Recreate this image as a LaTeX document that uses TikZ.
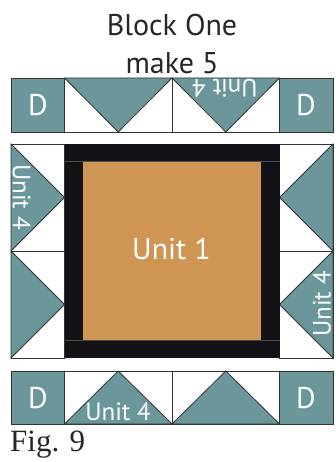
\documentclass[tikz,border=0pt]{standalone}
\usepackage{fontspec}
\setmainfont{PT Sans}
\newfontfamily\figfont{Liberation Serif}
\definecolor{teal1}{HTML}{6B979B}
\definecolor{tan1}{HTML}{CE9553}
\definecolor{blk}{HTML}{131317}
\definecolor{ln}{HTML}{333333}
\tikzset{
 tealfill/.style={fill=teal1,draw=ln,line width=0.8pt,line join=miter},
 whitefill/.style={fill=white,draw=ln,line width=0.8pt},
 lbl/.style={text=white,font=\fontsize{25}{27}\selectfont,inner sep=0pt},
 dlbl/.style={text=white,font=\fontsize{30}{32}\selectfont,inner sep=0pt},
 title/.style={text=black!85,font=\fontsize{30}{32}\selectfont,inner sep=0pt,anchor=base},
}
\begin{document}
\begin{tikzpicture}[x=1pt,y=-1pt]
\useasboundingbox (0,0) rectangle (335,462);
% top row
\draw[tealfill] (11,78) rectangle (64.5,132);
\draw[whitefill] (64.5,78) rectangle (172,132);
\draw[whitefill] (172,78) rectangle (279.5,132);
\draw[tealfill] (279.5,78) rectangle (333,132);
\draw[tealfill] (64.5,78) -- (118.2,132) -- (172,78) -- cycle;
\draw[tealfill] (172,78) -- (225.8,132) -- (279.5,78) -- cycle;
% left column
\draw[whitefill] (11,144) rectangle (64.5,251);
\draw[whitefill] (11,251) rectangle (64.5,358);
\draw[tealfill] (11,144) -- (64.5,197.5) -- (11,251) -- cycle;
\draw[tealfill] (11,251) -- (64.5,304.5) -- (11,358) -- cycle;
% right column
\draw[whitefill] (279.5,144) rectangle (333,251);
\draw[whitefill] (279.5,251) rectangle (333,358);
\draw[tealfill] (333,144) -- (279.5,197.5) -- (333,251) -- cycle;
\draw[tealfill] (333,251) -- (279.5,304.5) -- (333,358) -- cycle;
% centre
\fill[blk] (64.5,144) rectangle (279.5,358);
\draw[black!70,line width=0.4pt] (64.5,161.5) -- (279.5,161.5);
\draw[black!70,line width=0.4pt] (64.5,340) -- (279.5,340);
\fill[tan1] (83,162) rectangle (261,340);
% bottom row
\draw[tealfill] (11,371) rectangle (64.5,424);
\draw[whitefill] (64.5,371) rectangle (172,424);
\draw[whitefill] (172,371) rectangle (279.5,424);
\draw[tealfill] (279.5,371) rectangle (333,424);
\draw[tealfill] (64.5,424) -- (118.2,371) -- (172,424) -- cycle;
\draw[tealfill] (172,424) -- (225.8,371) -- (279.5,424) -- cycle;
% labels
\node[title] (t1) at (172,36) {Block One};
\node[title] (t2) at (172,74) {make 5};
\node[dlbl] (d1) at (38,105) {D};
\node[dlbl] (d2) at (306,105) {D};
\node[dlbl] (d3) at (38,398) {D};
\node[dlbl] (d4) at (306,398) {D};
\node[lbl,rotate=180] (u1) at (225,88.5) {Unit 4};
\node[lbl,rotate=-90] (u2) at (21.5,197) {Unit 4};
\node[lbl,rotate=90] (u3) at (322,304) {Unit 4};
\node[lbl] (u4) at (118,412) {Unit 4};
\node[text=white,inner sep=0pt,font=\fontsize{30}{32}\selectfont] (u5) at (171.5,249) {Unit 1};
\node[text=black!85,inner sep=0pt,font=\figfont\fontsize{31}{33}\selectfont,anchor=base west] (f) at (10,451) {Fig. 9};
\end{tikzpicture}
\end{document}
